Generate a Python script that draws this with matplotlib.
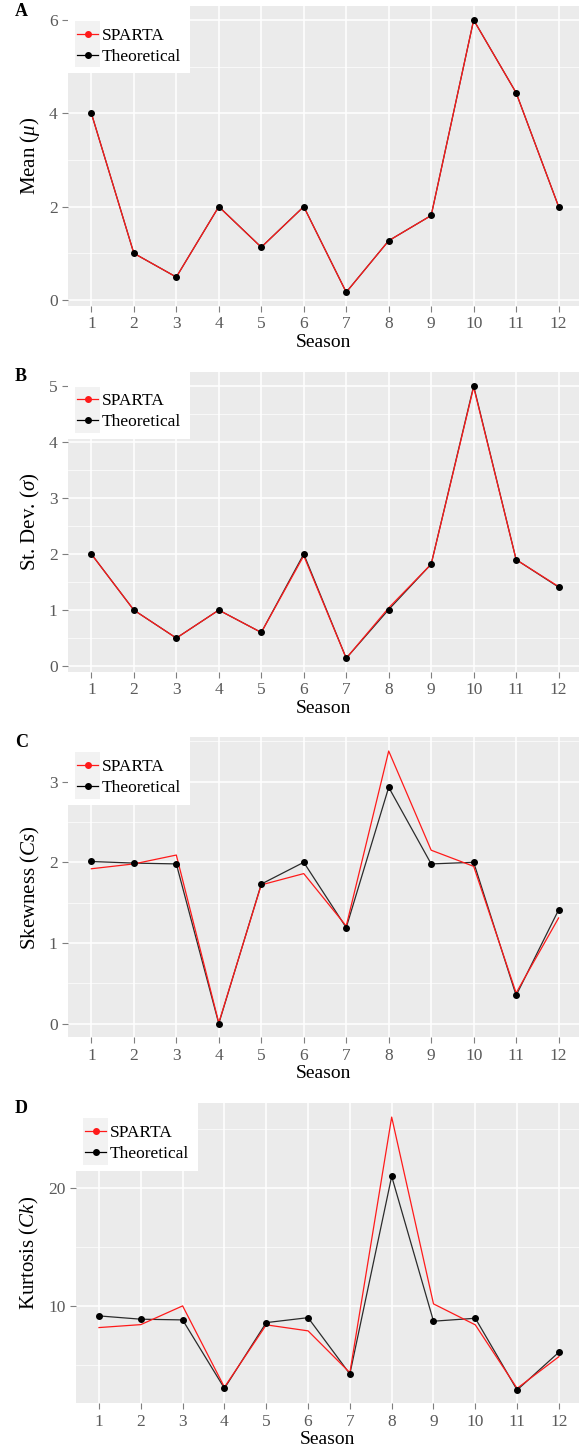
import matplotlib
matplotlib.use("Agg")
import matplotlib.pyplot as plt
from matplotlib.legend_handler import HandlerLine2D
from matplotlib.lines import Line2D
from matplotlib.patches import Rectangle
import numpy as np

plt.rcParams['font.family'] = ['Liberation Serif', 'DejaVu Serif']
plt.rcParams['mathtext.fontset'] = 'custom'
plt.rcParams['mathtext.rm'] = 'Liberation Serif'
plt.rcParams['mathtext.it'] = 'Liberation Serif:italic'

seasons = np.arange(1, 13)

mean_sparta = [4.0, 1.0, 0.49, 2.0, 1.13, 2.0, 0.165, 1.27, 1.81, 6.0, 4.44, 2.0]
mean_theo = [4.0, 1.0, 0.49, 2.0, 1.13, 2.0, 0.165, 1.27, 1.81, 6.0, 4.44, 2.0]

sd_sparta = [2.0, 1.0, 0.5, 1.0, 0.6, 1.97, 0.14, 1.04, 1.82, 4.98, 1.9, 1.42]
sd_theo = [2.0, 1.0, 0.5, 1.0, 0.6, 2.0, 0.14, 1.01, 1.82, 5.0, 1.9, 1.41]

skew_sparta = [1.92, 1.98, 2.09, 0.01, 1.72, 1.86, 1.21, 3.38, 2.15, 1.95, 0.38, 1.31]
skew_theo = [2.01, 1.99, 1.98, 0.0, 1.73, 2.0, 1.19, 2.93, 1.98, 2.0, 0.35, 1.41]

kurt_sparta = [8.16, 8.41, 10.0, 3.1, 8.39, 7.88, 4.33, 26.03, 10.17, 8.39, 3.0, 5.69]
kurt_theo = [9.15, 8.87, 8.81, 3.0, 8.58, 9.0, 4.22, 21.0, 8.7, 8.95, 2.86, 6.07]

panels = [
    ("A", "Mean ($\\mu$)", mean_sparta, mean_theo, (-0.13, 6.3), [0, 2, 4, 6], [1, 3, 5]),
    ("B", "St. Dev. ($\\sigma$)", sd_sparta, sd_theo, (-0.10, 5.255), [0, 1, 2, 3, 4, 5],
     [0.5, 1.5, 2.5, 3.5, 4.5]),
    ("C", "Skewness ($Cs$)", skew_sparta, skew_theo, (-0.17, 3.55), [0, 1, 2, 3],
     [0.5, 1.5, 2.5, 3.5]),
    ("D", "Kurtosis ($Ck$)", kurt_sparta, kurt_theo, (1.73, 27.2), [10, 20], [5, 15, 25]),
]

W, H = 579, 1453
fig = plt.figure(figsize=(W / 100, H / 100), dpi=100)

tops = [6, 371.7, 737.3, 1103.3]
lefts = [68, 68, 68, 76]
ax_h = 300


class KeyHandler(HandlerLine2D):
    # grey key background like ggplot2
    def create_artists(self, legend, orig_handle, xdescent, ydescent, width, height,
                       fontsize, trans):
        arts = super().create_artists(legend, orig_handle, xdescent, ydescent, width,
                                      height, fontsize, trans)
        pad = 4.8
        rect = Rectangle((-xdescent - 1, -ydescent - pad), width + 2, height + 2 * pad,
                         facecolor='#F2F2F2', edgecolor='none', transform=trans)
        return [rect] + arts


for (lab, ylab, sp, th, ylim, yt, ymin), top, left in zip(panels, tops, lefts):
    ax = fig.add_axes([left / W, 1 - (top + ax_h) / H, (W - left) / W, ax_h / H])
    ax.set_facecolor('#EBEBEB')
    for s in ax.spines.values():
        s.set_visible(False)
    ax.set_xlim(0.45, 12.48)
    ax.set_ylim(*ylim)
    ax.set_xticks(seasons)
    ax.set_yticks(yt)
    ax.set_yticks(ymin, minor=True)
    ax.grid(True, which='major', color='white', linewidth=1.1)
    ax.grid(True, which='minor', axis='y', color='white', linewidth=0.5)
    ax.tick_params(axis='y', which='minor', length=0)
    ax.set_axisbelow(True)
    ax.tick_params(which='major', length=4, width=0.8, color='#7F7F7F',
                   labelcolor='#5A5A5A', labelsize=12.5)
    ax.set_xlabel("Season", fontsize=14, labelpad=1)
    ax.set_ylabel(ylab, fontsize=15, labelpad=5)

    ax.plot(seasons, th, color='#2B2B2B', linewidth=0.9, zorder=2)
    ax.plot(seasons, sp, color='#FF1A1A', linewidth=0.9, zorder=3)
    ax.plot(seasons, th, linestyle='none', marker='o', markersize=4,
            color='black', zorder=4)

    fig.text(15 / W, 1 - (top + 5) / H, lab, fontsize=13, fontweight='bold',
             ha='left', va='center')

    h_sp = Line2D([], [], color='#FF1A1A', linewidth=0.9, marker='o', markersize=4)
    h_th = Line2D([], [], color='black', linewidth=0.9, marker='o', markersize=4)
    leg = ax.legend([h_sp, h_th], ["SPARTA", "Theoretical"], loc='upper left',
                    bbox_to_anchor=(0, 1), borderaxespad=0, fontsize=12.5,
                    title=' ', title_fontsize=5.5,
                    frameon=True, fancybox=False, framealpha=1, edgecolor='none',
                    facecolor='white', handlelength=1.25, handletextpad=0.2,
                    labelspacing=0.28, borderpad=0.5,
                    handler_map={Line2D: KeyHandler()})
    leg.set_zorder(10)

fig.savefig("out.png", dpi=100)
